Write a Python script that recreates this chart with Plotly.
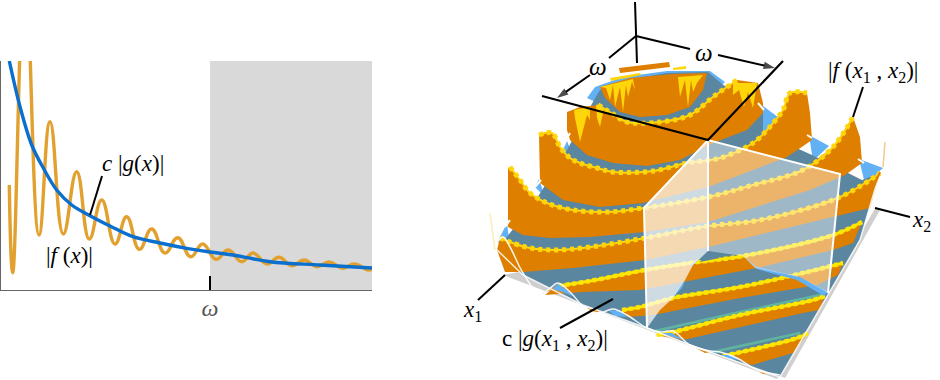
import plotly.graph_objects as go

# ---------- left panel values ----------
omega = 209
x_max = 371
y_max = 229
f_x = [8.3, 11.7, 24, 38, 49, 62.3, 75.7, 88.3, 100.7, 114, 125.7, 138.3, 150.7, 164, 176.7, 189.7, 201.7, 215,
       227.3, 240.7, 252, 265.7, 278, 290.7, 303.3, 315.7, 328.3, 341.7, 353.3, 367, 371]
f_y = [105, 17.3, 320, 55, 168.3, 56, 118.3, 51, 90, 46, 73.3, 40.7, 61, 37, 52.3, 33.3, 46, 30.7,
       40, 28.3, 37, 26, 32.7, 24.3, 30, 23.3, 28, 21.7, 26, 20, 20.5]
g_x = [8.3, 19, 30.7, 42.3, 55.7, 70.7, 89, 109, 132, 159, 185.7, 209, 232, 269, 319, 371]
g_y = [229, 183.3, 145, 122, 100, 85, 74.3, 64, 53.3, 47, 41.7, 38, 35, 28.3, 25, 22]
g_pointer_x = [101, 89]
g_pointer_y = [114, 75]

# ---------- right panel outlines ----------
shadow_left = [(503, 275), (777, 379), (782, 372), (640, 300), (530, 270)]
shadow_right = [(876, 207), (880, 210), (785, 378), (778, 375)]
back_blue = [(587, 98), (595, 87), (623, 77), (667, 71), (710, 71), (725, 82), (707, 100), (647, 117), (613, 110)]
wedge_1 = [(759, 103), (782, 120), (763, 135)]
wedge_2 = [(809, 135), (829, 146), (813, 161)]
wedge_3 = [(859, 159), (883, 168), (865, 184)]
wedge_4 = [(563, 150), (567, 141), (573, 156)]
wedge_5 = [(535, 187), (539, 179), (545, 197)]
wedge_6 = [(497, 243), (507, 223), (509, 238)]
floor = [(594, 100), (600, 90), (625, 80), (667, 73), (708, 72), (722, 84), (763, 112), (763, 133), (812, 155),
         (862, 180), (880, 173), (860, 240), (780, 377), (647, 328), (583, 305), (523, 275), (497, 250),
         (539, 195), (567, 150)]
top_bar = [(619, 68), (669, 62), (670, 67), (620, 73)]
bar_yellow_1 = [(610, 78), (640, 73), (641, 75), (611, 81)]
bar_yellow_2 = [(673, 68), (686, 66), (686, 69), (673, 70)]
bowl = [(600, 87), (630, 78), (673, 74), (707, 73), (703, 90), (690, 107), (667, 115), (640, 117), (620, 112), (605, 98)]
bowl_yellow_1 = [(600, 87), (633, 79), (635, 90), (632, 82), (628, 97), (626, 85), (623, 112), (620, 87), (615, 107),
                 (613, 85), (610, 100), (606, 88)]
bowl_yellow_2 = [(678, 77), (703, 75), (697, 83), (693, 92), (691, 80), (688, 107), (685, 80), (680, 97)]
ring2 = [(567, 112), (580, 107), (600, 105), (613, 114), (627, 122), (660, 122), (690, 115), (713, 97), (737, 80),
         (758, 83), (763, 103), (763, 113), (747, 130), (713, 143), (680, 160), (647, 166), (613, 163), (587, 155),
         (570, 140), (567, 130)]
ring2_yellow_1 = [(574, 110), (590, 107), (590, 120), (587, 115), (580, 142), (575, 118)]
ring2_yellow_2 = [(596, 105), (600, 104), (604, 108), (600, 127), (597, 118)]
ring2_yellow_3 = [(733, 83), (757, 83), (753, 108), (748, 92), (744, 107), (739, 90), (733, 95)]
ring3 = [(539, 135), (545, 132), (552, 133), (560, 147), (570, 158), (580, 163), (597, 168), (613, 172), (630, 172),
         (653, 171), (687, 163), (720, 158), (753, 143), (767, 130), (783, 110), (790, 93), (807, 93), (810, 113),
         (812, 140), (787, 157), (753, 170), (708, 187), (643, 203), (600, 207), (563, 200), (540, 183)]
ring4 = [(508, 168), (510, 167), (520, 180), (530, 193), (547, 203), (573, 210), (607, 212), (643, 208), (708, 197),
         (753, 185), (803, 170), (833, 147), (853, 117), (860, 137), (862, 163), (845, 175), (810, 190), (760, 206),
         (708, 222), (645, 232), (590, 237), (550, 238), (523, 235), (508, 227)]
ring5 = [(500, 238), (510, 242), (530, 248), (557, 250), (590, 247), (645, 238), (708, 226), (760, 220), (840, 197),
         (880, 173), (870, 208), (833, 217), (760, 235), (708, 247), (645, 260), (573, 268), (523, 272), (505, 272),
         (497, 250)]
ring6 = [(555, 287), (590, 281), (645, 270), (690, 263), (743, 256), (833, 235), (862, 222), (853, 243), (833, 250),
         (757, 268), (683, 282), (640, 290), (583, 292), (545, 295)]
ring7 = [(620, 311), (640, 307), (673, 298), (740, 287), (807, 272), (843, 263), (838, 275), (817, 285), (740, 298),
         (653, 315), (628, 317)]
ring8 = [(655, 335), (673, 332), (740, 315), (813, 300), (825, 296), (819, 310), (803, 313), (740, 327), (683, 340)]
ring9 = [(723, 356), (797, 338), (808, 333), (793, 353), (752, 365), (738, 360)]
rim_ring2 = [(598, 105), (613, 114), (627, 122), (660, 122), (690, 115), (713, 97), (737, 80)]
rim_ring3 = [(539, 135), (552, 133), (560, 147), (570, 158), (580, 163), (597, 168), (613, 172), (653, 171), (687, 163),
             (720, 158), (753, 143), (767, 130), (783, 110), (790, 93), (807, 93)]
rim_ring4 = [(510, 167), (520, 180), (530, 193), (547, 203), (573, 210), (607, 212), (643, 208), (708, 197), (753, 185),
             (803, 170), (833, 147), (853, 117)]
rim_ring5 = [(500, 238), (510, 242), (530, 248), (557, 250), (590, 247), (645, 238), (708, 226), (760, 220), (840, 197),
             (880, 173)]
rim_ring6 = [(558, 286), (590, 281), (645, 270), (690, 263), (743, 256), (833, 235), (862, 222)]
rim_ring7 = [(622, 310), (640, 307), (673, 298), (740, 287), (807, 272), (843, 263)]
rim_ring8 = [(657, 335), (673, 332), (740, 315), (813, 300), (825, 296)]
rim_ring9 = [(723, 356), (797, 338), (808, 333)]
teal_1 = [(655, 331), (740, 312), (825, 294)]
teal_2 = [(713, 352), (800, 333)]
bump_blue_top = [(708, 251), (693, 265), (688, 266), (700, 258)]
bump_steel_top = [(708, 251), (720, 258), (700, 262)]
bump_blue_low = [(672, 298), (685, 280), (688, 273), (682, 288)]
bump_blue_right = [(743, 256), (757, 267), (800, 277), (828, 292), (824, 296), (797, 280), (757, 269)]
panel_left = [(708, 140), (644, 208), (647, 328), (660, 310), (673, 298), (685, 280), (693, 265), (708, 251)]
panel_right = [(708, 140), (840, 174), (828, 293), (800, 277), (755, 268), (743, 256), (708, 251)]
frame_1 = [(647, 328), (644, 208), (708, 140), (840, 174), (828, 293)]
frame_2 = [(708, 140), (708, 251)]
lens_blue_1 = [(558, 284), (570, 292), (575, 297), (565, 293), (550, 288)]
lens_blue_2 = [(608, 310), (620, 311), (627, 317), (615, 316)]
lens_blue_3 = [(661, 333), (672, 333), (684, 340), (672, 337)]
lens_blue_4 = [(721, 355), (732, 355), (740, 360), (728, 359)]
lens_orange_1 = [(541, 294), (548, 290), (558, 285), (551, 290)]
lens_orange_2 = [(587, 308), (600, 311), (595, 313)]
lens_orange_3 = [(694, 347), (710, 352), (705, 353)]
lens_orange_4 = [(757, 370), (768, 373), (763, 374)]
edge_base = [(495, 248), (523, 275), (583, 305), (647, 328), (690, 345), (780, 377), (860, 240), (880, 172)]
edge_curve = [(495, 245), (503, 237), (510, 247), (523, 273), (540, 295), (548, 290), (558, 283), (570, 292), (587, 310),
              (600, 313), (613, 309), (627, 315), (647, 328), (661, 332), (673, 331), (690, 345), (710, 351), (720, 352),
              (737, 358), (757, 370), (780, 375)]
wisp_left = [(490, 213), (495, 250)]
wisp_right = [(885, 142), (883, 167)]
edge_orange = [(880, 172), (866, 205)]
seam_1 = [(758, 103), (764, 110)]
seam_2 = [(807, 135), (812, 138)]
seam_3 = [(858, 159), (864, 163)]
seam_4 = [(570, 133), (565, 142)]
seam_5 = [(541, 180), (535, 187)]
seam_6 = [(510, 220), (505, 227)]
axis_up = [(635, 2), (637, 63)]
omega_line = [(542, 96), (708, 140), (783, 61)]
arrow_a1 = [(636, 36), (690, 49)]
arrow_a2 = [(718, 55), (775, 68)]
arrow_b1 = [(636, 36), (609, 58)]
arrow_b2 = [(590, 75), (557, 98)]
pointer_f = [(863, 87), (853, 117)]
pointer_g = [(613, 299), (560, 328)]
pointer_x1 = [(505, 275), (478, 300)]
pointer_x2 = [(875, 208), (910, 217)]

ORANGE = "#DE7F00"
STEEL = "#5B86A0"
LIGHT = "#63B1F5"
YELLOW = "#FFD60A"
BRIGHT = "#FFE600"
TEAL = "#5FB5A0"
SERIF = "Liberation Serif"

fig = go.Figure()


def unzip(pts):
    return [p[0] for p in pts], [p[1] for p in pts]


def poly(pts, color, opacity=1.0):
    xs, ys = unzip(pts)
    fig.add_trace(go.Scatter(x=xs, y=ys, xaxis="x2", yaxis="y2", mode="lines", fill="toself",
                             fillcolor=color, opacity=opacity, line=dict(width=0),
                             hoverinfo="skip", showlegend=False))


def path(pts, color, width, dash="solid", shape="linear", opacity=1.0):
    xs, ys = unzip(pts)
    fig.add_trace(go.Scatter(x=xs, y=ys, xaxis="x2", yaxis="y2", mode="lines", opacity=opacity,
                             line=dict(color=color, width=width, dash=dash, shape=shape),
                             hoverinfo="skip", showlegend=False))


def rim(pts):
    path(pts, YELLOW, 2, shape="spline")
    path(pts, YELLOW, 5, dash="4px,4px", shape="spline")


def front_rim(pts):
    path(pts, BRIGHT, 3, shape="spline")
    path(pts, BRIGHT, 4.5, dash="4px,3px", shape="spline")


def arrow(pts):
    xs, ys = unzip(pts)
    fig.add_trace(go.Scatter(x=xs, y=ys, xaxis="x2", yaxis="y2", mode="lines+markers",
                             line=dict(color="black", width=2),
                             marker=dict(symbol=["circle", "arrow"], size=[0, 12], color="black",
                                         angleref="previous", line=dict(width=0)),
                             hoverinfo="skip", showlegend=False))


# left panel
fig.add_shape(type="rect", xref="x", yref="y", x0=omega, x1=x_max, y0=0, y1=y_max,
              fillcolor="#D9D9D9", line=dict(width=0), layer="below")
fig.add_trace(go.Scatter(x=f_x, y=f_y, mode="lines", line=dict(color="#E2A12E", width=3.4, shape="spline", smoothing=1.3),
                         hoverinfo="skip", showlegend=False))
fig.add_trace(go.Scatter(x=g_x, y=g_y, mode="lines", line=dict(color="#0A6FCF", width=3.4, shape="spline"),
                         hoverinfo="skip", showlegend=False))
fig.add_trace(go.Scatter(x=g_pointer_x, y=g_pointer_y, mode="lines", line=dict(color="black", width=2),
                         hoverinfo="skip", showlegend=False))

# right panel, back to front
poly(shadow_left, "#CFCFCF")
poly(shadow_right, "#CFCFCF")
poly(back_blue, LIGHT)
for w in (wedge_1, wedge_2, wedge_3, wedge_4, wedge_5, wedge_6):
    poly(w, LIGHT)
poly(floor, STEEL)
poly(top_bar, ORANGE)
poly(bar_yellow_1, YELLOW)
poly(bar_yellow_2, YELLOW)
poly(bowl, ORANGE)
poly(bowl_yellow_1, YELLOW)
poly(bowl_yellow_2, YELLOW)
poly(ring2, ORANGE)
poly(ring2_yellow_1, YELLOW)
poly(ring2_yellow_2, YELLOW)
poly(ring2_yellow_3, YELLOW)
rim(rim_ring2)
poly(ring3, ORANGE)
rim(rim_ring3)
poly(ring4, ORANGE)
rim(rim_ring4)
poly(ring5, ORANGE)
rim(rim_ring5)
poly(ring6, ORANGE)
front_rim(rim_ring6)
poly(ring7, ORANGE)
front_rim(rim_ring7)
path(teal_1, TEAL, 2.5)
path(teal_2, TEAL, 2.5)
poly(ring8, ORANGE)
front_rim(rim_ring8)
poly(ring9, ORANGE)
front_rim(rim_ring9)
poly(bump_blue_top, LIGHT)
poly(bump_steel_top, STEEL)
poly(bump_blue_low, LIGHT)
poly(bump_blue_right, LIGHT)
poly(panel_left, "rgba(255,255,255,0.70)")
poly(panel_right, "rgba(255,255,255,0.42)")
path(frame_1, "white", 2)
path(frame_2, "white", 2)
for l in (lens_blue_1, lens_blue_2, lens_blue_3, lens_blue_4):
    poly(l, LIGHT)
for l in (lens_orange_1, lens_orange_2, lens_orange_3, lens_orange_4):
    poly(l, ORANGE)
path(edge_base, "rgba(255,255,255,0.85)", 1.5)
path(edge_curve, "rgba(255,255,255,0.9)", 1.5, shape="spline")
path(wisp_left, "#FBEBB5", 1.5)
path(wisp_right, "#F3C98F", 1.5)
path(edge_orange, ORANGE, 2)
for s in (seam_1, seam_2, seam_3, seam_4, seam_5, seam_6):
    path(s, "white", 2)

# annotation lines
path(axis_up, "black", 2)
path(omega_line, "black", 2.2)
path(arrow_a1, "black", 2)
arrow(arrow_a2)
path(arrow_b1, "black", 2)
arrow(arrow_b2)
for p in (pointer_f, pointer_g, pointer_x1, pointer_x2):
    path(p, "black", 2)


def label(text, x, y, size=23):
    fig.add_annotation(text=text, x=x, y=y, xref="x2", yref="y2", showarrow=False,
                       font=dict(family=SERIF, size=size, color="black"), xanchor="center", yanchor="middle")


def left_label(text, x, y, size=23):
    fig.add_annotation(text=text, x=x, y=y, xref="x", yref="y", showarrow=False,
                       font=dict(family=SERIF, size=size, color="black"), xanchor="center", yanchor="middle")


left_label("<i>c</i> |<i>g</i>(<i>x</i>)|", 132, 126)
left_label("|<i>f</i> (<i>x</i>)|", 68, 34)
left_label("<i>x</i>", 392, -1, 25)
label("<i>ω</i>", 704, 52, 25)
label("<i>ω</i>", 598, 66, 25)
label("|<i>f</i> (<i>x</i><sub>1</sub> , <i>x</i><sub>2</sub>)|", 873, 72)
label("<i>x</i><sub>2</sub>", 921, 221)
label("<i>x</i><sub>1</sub>", 472, 311)
label("c |<i>g</i>(<i>x</i><sub>1</sub> , <i>x</i><sub>2</sub>)|", 555, 340)

W, H = 940, 380
fig.update_layout(
    width=W, height=H, margin=dict(l=0, r=0, t=0, b=0, pad=0), autosize=False,
    plot_bgcolor="rgba(0,0,0,0)", paper_bgcolor="white", showlegend=False,
    xaxis=dict(domain=[1 / W, 372 / W], range=[0, x_max], anchor="y", showgrid=False, zeroline=False,
               showline=True, linecolor="#666666", linewidth=1, ticks="inside", ticklen=14, tickwidth=2,
               tickcolor="black", tickvals=[omega], ticktext=["<i>ω</i>"], ticklabelstandoff=-4,
               tickfont=dict(family=SERIF, size=24, color="#555555")),
    yaxis=dict(domain=[1 - 290 / H, 1 - 61 / H], range=[0, y_max], anchor="x", showgrid=False, zeroline=False,
               showline=True, linecolor="#666666", linewidth=1, showticklabels=False, ticks=""),
    xaxis2=dict(domain=[440 / W, 1], range=[440, 940], anchor="y2", visible=False),
    yaxis2=dict(domain=[0, 1], range=[380, 0], anchor="x2", visible=False),
)
fig.write_html("out.html", post_script="document.body.style.margin='0';", config={"displayModeBar": False})
